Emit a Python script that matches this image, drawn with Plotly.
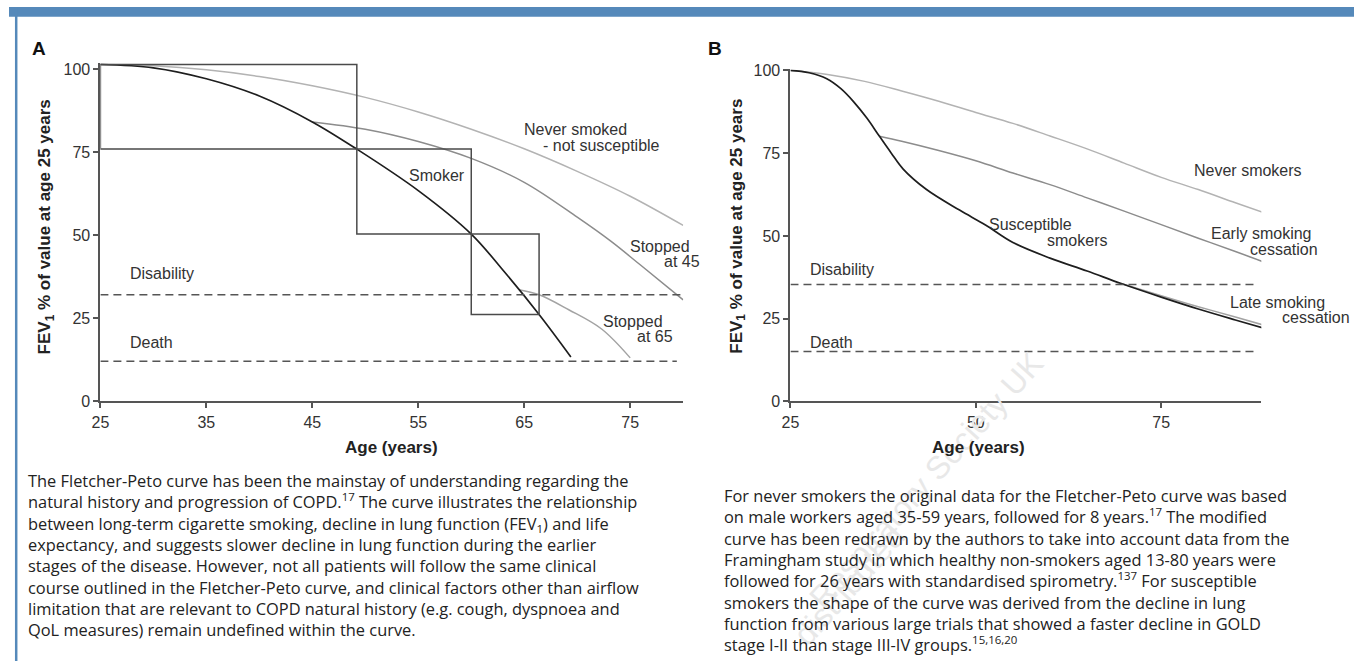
import plotly.graph_objects as go

W, H = 1354, 670

# ---------------- Panel A data (Fletcher-Peto) ----------------
a_never_age = [25, 30, 35, 40, 45, 50, 55, 60, 65, 70, 75, 80]
a_never_val = [101.5, 101.1, 99.9, 97.9, 95.1, 91.6, 87.2, 82.0, 76.1, 69.3, 61.8, 53.0]

a_smoker_age = [25, 30, 35, 40, 45, 49.2, 55, 60, 63, 66.4, 69.4]
a_smoker_val = [101.5, 100.5, 97.2, 92.0, 84.2, 76.0, 63.5, 50.4, 39.5, 26.2, 13.4]

a_stop45_age = [45, 50, 55, 60, 65, 70, 73.2, 76, 80]
a_stop45_val = [84.2, 82.0, 78.3, 73.2, 66.0, 55.5, 48.2, 41.0, 30.6]

a_stop65_age = [64.5, 66.4, 69.2, 72.3, 75.0]
a_stop65_val = [33.6, 32.1, 27.6, 21.8, 13.1]

a_box_age = [25, 49.2, 60, 66.4]
a_box_val = [101.5, 76.0, 50.4, 26.2]

a_disability = 32.1
a_death = 12.1
a_disability_end = 80
a_death_end = 79.4

a_xticks = [25, 35, 45, 55, 65, 75]
a_yticks = [0, 25, 50, 75, 100]

# ---------------- Panel B data (modified curve) ----------------
b_never_age = [25, 30, 35, 40, 45, 50, 55, 60, 65, 70, 75, 80, 85, 88.6]
b_never_val = [100, 98.8, 96.7, 93.8, 90.7, 87.3, 84.0, 80.2, 76.3, 72.0, 67.7, 64.0, 60.0, 57.2]

b_susc_age = [25, 27.5, 29.9, 31.8, 33.5, 35.3, 37, 38.6, 40.2, 43.3, 47.8, 51.3, 55, 60, 65, 69.6, 75, 80, 85, 88.6]
b_susc_val = [100, 99.3, 97.5, 94.5, 90.6, 85.6, 80.1, 75.0, 70.2, 64.1, 57.8, 53.3, 48.0, 43.3, 39.4, 35.6, 31.5, 27.9, 24.6, 22.3]

b_early_age = [37, 40, 45, 50, 55, 60, 65, 70, 75, 80, 85, 89.2]
b_early_val = [80.1, 78.6, 75.8, 72.7, 69.0, 65.5, 61.5, 57.5, 53.4, 49.3, 45.3, 41.8]

b_late_age = [69.6, 75, 80, 85, 89.2]
b_late_val = [35.6, 31.9, 28.6, 25.5, 22.8]

b_disability = 35.3
b_death = 15.1
b_threshold_end = 87.7

b_xticks = [25, 50, 75]
b_yticks = [0, 25, 50, 75, 100]

# ---------------- Texts ----------------
para_a = [
    "The Fletcher-Peto curve has been the mainstay of understanding regarding the",
    "natural history and progression of COPD.<sup>17</sup> The curve illustrates the relationship",
    "between long-term cigarette smoking, decline in lung function (FEV<sub>1</sub>) and life",
    "expectancy, and suggests slower decline in lung function during the earlier",
    "stages of the disease. However, not all patients will follow the same clinical",
    "course outlined in the Fletcher-Peto curve, and clinical factors other than airflow",
    "limitation that are relevant to COPD natural history (e.g. cough, dyspnoea and",
    "QoL measures) remain undefined within the curve.",
]
para_b = [
    "For never smokers the original data for the Fletcher-Peto curve was based",
    "on male workers aged 35-59 years, followed for 8 years.<sup>17</sup> The modified",
    "curve has been redrawn by the authors to take into account data from the",
    "Framingham study in which healthy non-smokers aged 13-80 years were",
    "followed for 26 years with standardised spirometry.<sup>137</sup> For susceptible",
    "smokers the shape of the curve was derived from the decline in lung",
    "function from various large trials that showed a faster decline in GOLD",
    "stage I-II than stage III-IV groups.<sup>15,16,20</sup>",
]


def px(x):
    return x / W


def py(y):
    return 1 - y / H


FONT = "Liberation Sans, Arial, sans-serif"
AXC = "#555555"
TXT = "#333333"

fig = go.Figure()


def curve(xs, ys, color, width, xa="x", ya="y", dash=None, shape="spline"):
    fig.add_trace(go.Scatter(
        x=xs, y=ys, mode="lines", xaxis=xa, yaxis=ya, hoverinfo="skip",
        line=dict(color=color, width=width, shape=shape, dash=dash, smoothing=1.0 if shape == "spline" else None),
        showlegend=False,
    ))


# Panel A
curve(a_never_age, a_never_val, "#b3b3b3", 1.5)
curve(a_stop45_age, a_stop45_val, "#8c8c8c", 1.5)
curve(a_stop65_age, a_stop65_val, "#a3a3a3", 1.5)
curve(a_smoker_age, a_smoker_val, "#1e1e1e", 1.7)
curve([a_box_age[0], a_disability_end], [a_disability, a_disability], "#555555", 1.5, dash="8px,5px", shape="linear")
curve([a_box_age[0], a_death_end], [a_death, a_death], "#555555", 1.5, dash="8px,5px", shape="linear")

# Panel B
curve(b_never_age, b_never_val, "#b3b3b3", 1.5, "x2", "y2")
curve(b_early_age, b_early_val, "#8c8c8c", 1.5, "x2", "y2")
curve(b_late_age, b_late_val, "#a3a3a3", 1.5, "x2", "y2")
curve(b_susc_age, b_susc_val, "#1e1e1e", 1.7, "x2", "y2")
curve([b_never_age[0], b_threshold_end], [b_disability, b_disability], "#555555", 1.5, "x2", "y2", dash="8px,5px", shape="linear")
curve([b_never_age[0], b_threshold_end], [b_death, b_death], "#555555", 1.5, "x2", "y2", dash="8px,5px", shape="linear")

shapes = []
# Fletcher-Peto staircase boxes
for i in range(len(a_box_age) - 1):
    shapes.append(dict(
        type="rect", xref="x", yref="y",
        x0=a_box_age[i], x1=a_box_age[i + 1],
        y0=a_box_val[i + 1], y1=a_box_val[i],
        line=dict(color="#4a4a4a", width=1.5), fillcolor="rgba(0,0,0,0)", layer="above",
    ))
# blue frame
shapes.append(dict(type="rect", xref="paper", yref="paper", x0=0, x1=1, y0=py(10), y1=1,
                   line=dict(width=0), fillcolor="#5589ba", layer="below"))
shapes.append(dict(type="rect", xref="paper", yref="paper", x0=px(6), x1=px(8.5), y0=0, y1=1,
                   line=dict(width=0), fillcolor="#5589ba", layer="below"))

ann = []


def label(text, x, y, size=16, bold=False, color=TXT, xanchor="left", angle=0, family=FONT, align="left"):
    ann.append(dict(
        text=("<b>%s</b>" % text) if bold else text,
        x=px(x), y=py(y), xref="paper", yref="paper",
        xanchor=xanchor, yanchor="middle", showarrow=False, textangle=angle, align=align,
        font=dict(family=family, size=size, color=color),
    ))


# watermark (faint)
label("Respiratory Society UK", 924, 485, size=32, color="#e8e8e8", xanchor="center", angle=-48)
label("distributed", 846, 592, size=32, color="#e8e8e8", xanchor="center", angle=-48)

# panel letters
label("A", 21, 43, size=19, bold=True, color="#111111")
label("B", 702, 43, size=19, bold=True, color="#111111")

# axis titles
label("FEV<sub>1</sub> % of value at age 25 years", 37, 225, size=17, bold=True, color="#222222", xanchor="center", angle=-90)
label("Age (years)", 385, 451, size=17, bold=True, color="#222222", xanchor="center")
label("FEV<sub>1</sub> % of value at age 25 years", 733, 225, size=17, bold=True, color="#222222", xanchor="center", angle=-90)
label("Age (years)", 976, 451, size=17, bold=True, color="#222222", xanchor="center")

# panel A labels
label("Never smoked", 516, 126)
label("- not susceptible", 536, 142)
label("Smoker", 401, 173)
label("Stopped", 623, 245)
label("at 45", 657, 261)
label("Stopped", 596, 322)
label("at 65", 630, 338)
label("Disability", 120, 273)
label("Death", 120, 344)

# panel B labels
label("Never smokers", 1191, 167)
label("Early smoking", 1208, 232)
label("cessation", 1247, 248)
label("Late smoking", 1227, 303)
label("cessation", 1280, 318)
label("Susceptible", 985, 223)
label("smokers", 1043, 239)
label("Disability", 804, 269)
label("Death", 804, 344)

# paragraphs (one multi-line block each, centred on the reference block centre)
PFONT = "Open Sans, Noto Sans, sans-serif"
PSIZE = 16.4
label("<br>".join(para_a), 17, 488 + 3.5 * 20.9, size=PSIZE, color="#222222", family=PFONT)
label("<br>".join(para_b), 718, 504 + 3.5 * 20.9, size=PSIZE, color="#222222", family=PFONT)

axis_common = dict(
    showline=True, linecolor=AXC, linewidth=2, ticks="outside", ticklen=5, tickwidth=1.5,
    tickcolor=AXC, showgrid=False, zeroline=False, fixedrange=True,
    tickfont=dict(family=FONT, size=16, color=TXT),
)

fig.update_layout(
    width=W, height=H, margin=dict(l=0, r=0, t=0, b=0),
    paper_bgcolor="white", plot_bgcolor="white", showlegend=False,
    xaxis=dict(domain=[px(92), px(678.7)], range=[25, 80], tickvals=a_xticks, anchor="y", **axis_common),
    yaxis=dict(domain=[py(404), py(57.2)], range=[0, 102], tickvals=a_yticks, anchor="x", **axis_common),
    xaxis2=dict(domain=[px(786.7), px(1260.7)], range=[25, 88.5], tickvals=b_xticks, anchor="y2", **axis_common),
    yaxis2=dict(domain=[py(404), py(64.0)], range=[0, 100.3], tickvals=b_yticks, anchor="x2", **axis_common),
    shapes=shapes, annotations=ann,
)

fig.write_html(
    "out.html",
    config={"displayModeBar": False},
    post_script="document.body.style.margin='0';document.body.style.overflow='hidden';",
)
